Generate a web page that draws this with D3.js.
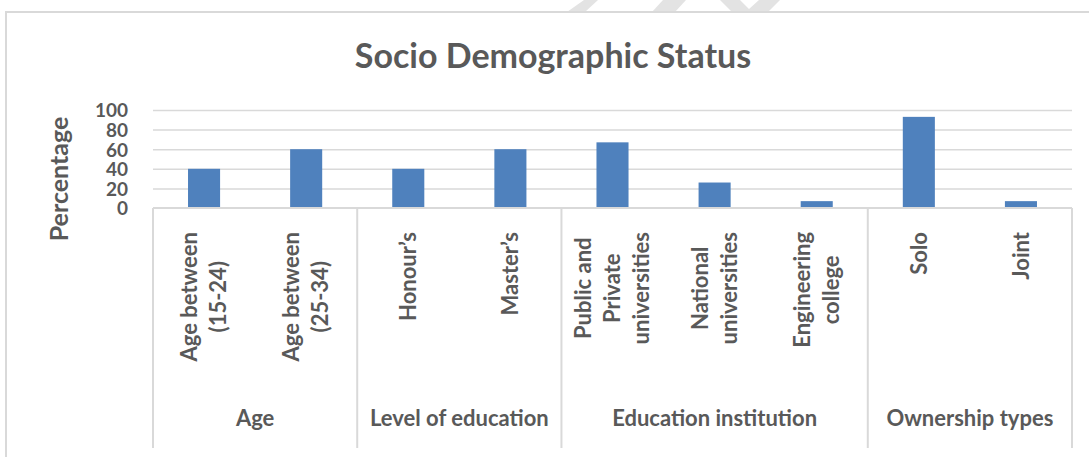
<!DOCTYPE html>
<html>
<head>
<meta charset="utf-8">
<script src="https://cdnjs.cloudflare.com/ajax/libs/d3/7.8.5/d3.min.js"></script>
<style>
  body { margin: 0; background: #fff; }
  text { font-family: Lato, "Open Sans", sans-serif; font-weight: bold; fill: #595959; }
</style>
</head>
<body>
<div id="chart"></div>
<script>
// data
const categories = [
  ["Age between", "(15-24)"],
  ["Age between", "(25-34)"],
  ["Honour\u2019s"],
  ["Master\u2019s"],
  ["Public and", "Private", "universities"],
  ["National", "universities"],
  ["Engineering", "college"],
  ["Solo"],
  ["Joint"]
];
const values = [40, 60, 40, 60, 67, 26, 7, 93, 7];
const groups = ["Age", "Level of education", "Education institution", "Ownership types"];
const groupSizes = [2, 2, 3, 2];
const yTicks = [0, 20, 40, 60, 80, 100];

const W = 1089, H = 457;
const plot = { left: 153, right: 1072, top: 110, bottom: 208 };
const labelBottom = 448;

const svg = d3.select("#chart").append("svg")
  .attr("width", W).attr("height", H);

// faint watermark pieces above the frame
const wm = [
  [[584,0],[598,0],[585,12],[567,12]],
  [[663,0],[686,0],[675,12],[652,12]],
  [[720,0],[740,0],[749,9],[759,0],[780,0],[768,12],[732,12]]
];
svg.selectAll(".wm").data(wm).join("path")
  .attr("d", d => "M" + d.join("L") + "Z")
  .attr("fill", "#e3e3e3");

// chart frame
svg.append("rect")
  .attr("x", 6).attr("y", 12).attr("width", W + 10).attr("height", H + 10)
  .attr("fill", "none").attr("stroke", "#d9d9d9").attr("stroke-width", 2);

// title
svg.append("text")
  .attr("x", 553).attr("y", 68)
  .attr("text-anchor", "middle")
  .style("font-size", "34px")
  .text("Socio Demographic Status");

const idx = categories.map((c, i) => i);
const x = d3.scaleBand()
  .domain(idx)
  .range([plot.left, plot.right])
  .paddingInner(0.686)
  .paddingOuter(0.343);

const y = d3.scaleLinear()
  .domain([0, 100])
  .range([plot.bottom, plot.top]);

// gridlines
svg.append("g")
  .attr("transform", `translate(${plot.left},0)`)
  .call(d3.axisLeft(y).tickValues(yTicks.slice(1)).tickSize(-(plot.right - plot.left)).tickFormat(""))
  .call(g => g.select(".domain").remove())
  .call(g => g.selectAll("line").attr("stroke", "#d9d9d9").attr("stroke-width", 1.5));

// y tick labels
svg.append("g")
  .attr("transform", "translate(132,0)")
  .call(d3.axisLeft(y).tickValues(yTicks).tickSize(0).tickPadding(4))
  .call(g => g.select(".domain").remove())
  .call(g => g.selectAll("text").style("font-size", "19px").attr("dy", "0.36em").attr("fill", "#595959"));

// y axis title
svg.append("text")
  .attr("transform", "translate(68,179) rotate(-90)")
  .attr("text-anchor", "middle")
  .style("font-size", "25px")
  .text("Percentage");

// bars
svg.selectAll(".bar").data(values).join("rect")
  .attr("class", "bar")
  .attr("x", (d, i) => x(i))
  .attr("y", d => y(d))
  .attr("width", x.bandwidth())
  .attr("height", d => y(0) - y(d))
  .attr("fill", "#4f81bd");

// category axis lines
const step = x.step();
const bounds = [0];
groupSizes.forEach(s => bounds.push(bounds[bounds.length - 1] + s));
const sepX = bounds.map(b => plot.left + b * step);

svg.append("line")
  .attr("x1", plot.left).attr("x2", plot.right)
  .attr("y1", plot.bottom).attr("y2", plot.bottom)
  .attr("stroke", "#d9d9d9").attr("stroke-width", 2);
svg.selectAll(".sep").data(sepX).join("line")
  .attr("x1", d => d).attr("x2", d => d)
  .attr("y1", plot.bottom).attr("y2", labelBottom)
  .attr("stroke", "#d9d9d9").attr("stroke-width", 2);

// category labels (rotated, lines centred on the longest)
const lh = 29;
const catG = svg.selectAll(".cat").data(categories).join("g")
  .attr("class", "cat")
  .attr("transform", (d, i) => `translate(${x(i) + x.bandwidth() / 2},232) rotate(-90)`);
catG.each(function(lines) {
  const g = d3.select(this);
  const n = lines.length;
  const ts = lines.map((t, j) => g.append("text")
    .attr("y", (j - (n - 1) / 2) * lh)
    .attr("dy", "0.35em")
    .attr("text-anchor", "middle")
    .style("font-size", "22px")
    .text(t));
  const maxW = d3.max(ts, t => t.node().getComputedTextLength());
  ts.forEach(t => t.attr("x", -maxW / 2));
});

// group labels
svg.selectAll(".grp").data(groups).join("text")
  .attr("class", "grp")
  .attr("x", (d, i) => (sepX[i] + sepX[i + 1]) / 2)
  .attr("y", 426)
  .attr("text-anchor", "middle")
  .style("font-size", "22px")
  .text(d => d);
</script>
</body>
</html>
